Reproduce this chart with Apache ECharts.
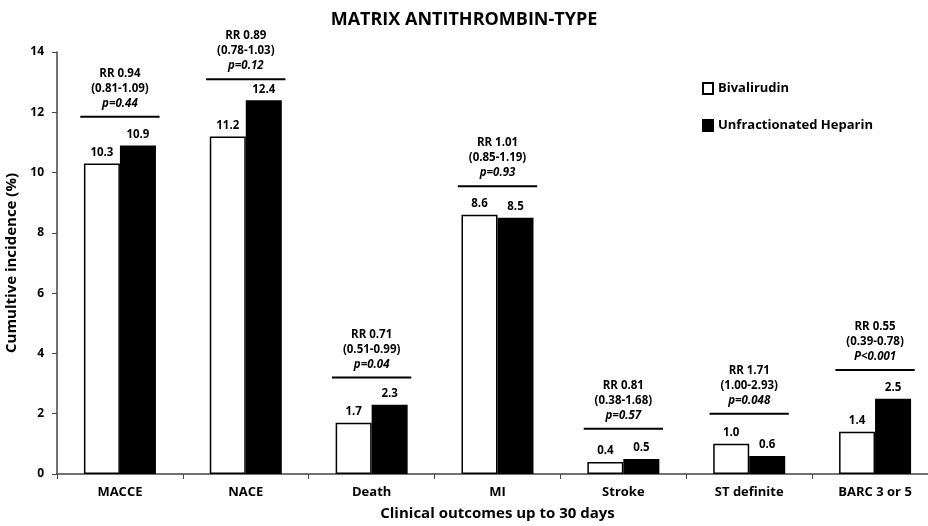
<!DOCTYPE html>
<html>
<head>
<meta charset="utf-8">
<script src="https://cdn.jsdelivr.net/npm/echarts@6/dist/echarts.min.js"></script>
<style>html,body{margin:0;padding:0;background:#fff;}#c{width:928px;height:526px;}</style>
</head>
<body>
<div id="c"></div>
<script>
const categories = ['MACCE', 'NACE', 'Death', 'MI', 'Stroke', 'ST definite', 'BARC 3 or 5'];
const bivalirudin = [10.3, 11.2, 1.7, 8.6, 0.4, 1.0, 1.4];
const heparin = [10.9, 12.4, 2.3, 8.5, 0.5, 0.6, 2.5];
const rrLabels = ['RR 0.94', 'RR 0.89', 'RR 0.71', 'RR 1.01', 'RR 0.81', 'RR 1.71', 'RR 0.55'];
const ciLabels = ['(0.81-1.09)', '(0.78-1.03)', '(0.51-0.99)', '(0.85-1.19)', '(0.38-1.68)', '(1.00-2.93)', '(0.39-0.78)'];
const pLabels = ['p=0.44', 'p=0.12', 'p=0.04', 'p=0.93', 'p=0.57', 'p=0.048', 'P<0.001'];
const bracketLevels = [11.85, 13.1, 3.2, 9.55, 1.5, 2.0, 3.45];
const yTicks = [0, 2, 4, 6, 8, 10, 12, 14];

const FONT = 'Open Sans';
const chart = echarts.init(document.getElementById('c'));
const annData = categories.map((c, i) => [i, bracketLevels[i]]);

chart.setOption({
  animation: false,
  backgroundColor: '#fff',
  title: {
    text: 'MATRIX ANTITHROMBIN-TYPE',
    left: 'center', top: 6,
    textStyle: {fontFamily: FONT, fontWeight: 'bold', fontSize: 18, color: '#000'}
  },
  legend: {
    orient: 'vertical', left: 697, top: 77, itemGap: 24,
    icon: 'rect', itemWidth: 10, itemHeight: 11,
    textStyle: {fontFamily: FONT, fontWeight: 'bold', fontSize: 13, color: '#000'},
    data: ['Bivalirudin', 'Unfractionated Heparin']
  },
  grid: {left: 57, right: -10, top: 52, bottom: 52, outerBoundsMode: 'none'},
  xAxis: {
    type: 'category', data: categories,
    name: 'Clinical outcomes up to 30 days', nameLocation: 'middle', nameGap: 32,
    nameTextStyle: {fontFamily: FONT, fontWeight: 'bold', fontSize: 15, color: '#000'},
    axisLine: {lineStyle: {color: '#444', width: 1.5}},
    axisTick: {show: true, length: 5, lineStyle: {color: '#444'}},
    axisLabel: {fontFamily: FONT, fontWeight: 'bold', fontSize: 13, color: '#000', margin: 12}
  },
  yAxis: {
    type: 'value', min: 0, max: 14, interval: 2,
    name: 'Cumultive incidence (%)', nameLocation: 'middle', nameGap: 30,
    nameTextStyle: {fontFamily: FONT, fontWeight: 'bold', fontSize: 15, color: '#000'},
    axisLine: {show: true, lineStyle: {color: '#444', width: 1.5}},
    axisTick: {show: true, length: 5, lineStyle: {color: '#444'}},
    splitLine: {show: false},
    axisLabel: {fontFamily: FONT, fontWeight: 'bold', fontSize: 12, color: '#000', margin: 13,
      formatter: v => yTicks.includes(v) ? String(v) : ''}
  },
  series: [
    {
      name: 'Bivalirudin', type: 'bar', data: bivalirudin, barWidth: 36, barGap: '0%',
      itemStyle: {color: '#fff', borderColor: '#000', borderWidth: 1.5},
      label: {show: true, position: 'top', distance: 5, formatter: p => p.value.toFixed(1),
        fontFamily: FONT, fontWeight: 'bold', fontSize: 11.5, color: '#000'}
    },
    {
      name: 'Unfractionated Heparin', type: 'bar', data: heparin, barWidth: 36,
      itemStyle: {color: '#000', borderColor: '#000', borderWidth: 1.5},
      label: {show: true, position: 'top', distance: 5, formatter: p => p.value.toFixed(1),
        fontFamily: FONT, fontWeight: 'bold', fontSize: 11.5, color: '#000'}
    },
    {
      type: 'custom', data: annData, encode: {x: 0, y: 1}, silent: true, z: 5,
      renderItem: function (params, api) {
        const idx = api.value(0);
        const pt = api.coord([idx, api.value(1)]);
        const half = api.size([1, 0])[0] * 0.315;
        const txt = (t, dy, italic) => ({
          type: 'text', x: pt[0], y: pt[1] + dy,
          style: {text: t, fill: '#000', align: 'center', verticalAlign: 'middle',
            font: (italic ? 'italic ' : '') + 'bold 11.5px ' + FONT}
        });
        return {type: 'group', children: [
          {type: 'line', shape: {x1: pt[0] - half, y1: pt[1], x2: pt[0] + half, y2: pt[1]},
            style: {stroke: '#000', lineWidth: 2}},
          txt(pLabels[idx], -13, true),
          txt(ciLabels[idx], -28, false),
          txt(rrLabels[idx], -43, false)
        ]};
      }
    }
  ]
});
</script>
</body>
</html>
